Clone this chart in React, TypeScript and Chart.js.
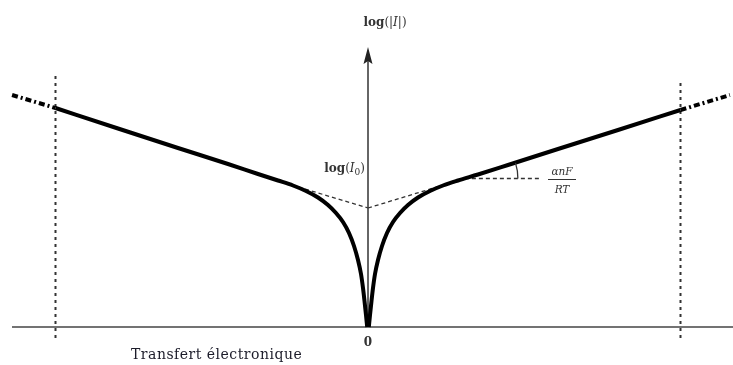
import React, { useEffect, useRef } from "react";
import { Chart, registerables } from "chart.js";

Chart.register(...registerables);

// log|I| versus surtension (transfert électronique); dotted bounds at x = ±1
const leftBranchX = [-1.0, -0.8, -0.608, -0.448, -0.352, -0.288, -0.24, -0.1984, -0.16, -0.128, -0.1024, -0.08, -0.0608, -0.0448, -0.032, -0.0224, -0.016, -0.0112, -0.0064, -0.0026];
const leftBranchY = [2.19, 1.985, 1.79, 1.63, 1.53, 1.465, 1.415, 1.36, 1.295, 1.22, 1.14, 1.05, 0.94, 0.81, 0.67, 0.53, 0.39, 0.26, 0.12, 0.0];
const rightBranchX = [0.0026, 0.0064, 0.0112, 0.016, 0.0224, 0.032, 0.0448, 0.0608, 0.08, 0.1024, 0.128, 0.16, 0.1984, 0.24, 0.288, 0.352, 0.448, 0.608, 0.8, 1.0];
const rightBranchY = [0.0, 0.12, 0.26, 0.39, 0.53, 0.67, 0.81, 0.94, 1.05, 1.14, 1.22, 1.295, 1.36, 1.415, 1.465, 1.525, 1.62, 1.78, 1.97, 2.17];
const leftExtX = [-1.139, -1.0];
const leftExtY = [2.32, 2.19];
const rightExtX = [1.0, 1.158];
const rightExtY = [2.17, 2.32];
const logI0 = 1.19;
const tangentLeftX = [-0.2656, 0];
const tangentLeftY = [1.44, logI0];
const tangentRightX = [0, 0.352];
const tangentRightY = [logI0, 1.525];
const horizontalX = [0.31, 0.55];
const horizontalY = [1.485, 1.485];
const boundsX = [-1.0, 1.0];
const boundsTopY = [2.53, 2.47];
const boundsBottomY = -0.11;
const axisXRange = [-1.1392, 1.168];
const axisYTop = 2.72;
const arrowTipY = 2.8;
const xTickLabels = ["0"];
const xTitle = "Transfert électronique";

const pts = (xs: number[], ys: number[]) => xs.map((x, i) => ({ x, y: ys[i] }));

const SERIF = "'DejaVu Serif', serif";

type Run = { t: string; font: string; dy?: number };

function drawRuns(ctx: CanvasRenderingContext2D, runs: Run[], x: number, y: number, align: "left" | "center" | "right") {
  let total = 0;
  const widths = runs.map((r) => {
    ctx.font = r.font;
    const w = ctx.measureText(r.t).width;
    total += w;
    return w;
  });
  let cx = align === "left" ? x : align === "center" ? x - total / 2 : x - total;
  ctx.textAlign = "left";
  ctx.textBaseline = "alphabetic";
  runs.forEach((r, i) => {
    ctx.font = r.font;
    ctx.fillText(r.t, cx, y + (r.dy || 0));
    cx += widths[i];
  });
}

const annotations = {
  id: "annotations",
  afterDatasetsDraw(chart: any) {
    const ctx: CanvasRenderingContext2D = chart.ctx;
    const xs = chart.scales.x;
    const ys = chart.scales.y;
    const px = (v: number) => xs.getPixelForValue(v);
    const py = (v: number) => ys.getPixelForValue(v);
    ctx.save();

    // arrow head on y axis
    const ax = px(0);
    const tip = py(arrowTipY);
    ctx.fillStyle = "#222";
    ctx.beginPath();
    ctx.moveTo(ax, tip);
    ctx.lineTo(ax - 4.5, tip + 17);
    ctx.lineTo(ax, tip + 14);
    ctx.lineTo(ax + 4.5, tip + 17);
    ctx.closePath();
    ctx.fill();

    // y title
    ctx.fillStyle = "#333";
    drawRuns(
      ctx,
      [
        { t: "log", font: `bold 12px ${SERIF}` },
        { t: "(|", font: `12px ${SERIF}` },
        { t: "I", font: `italic 12px ${SERIF}` },
        { t: "|)", font: `12px ${SERIF}` },
      ],
      ax + 17,
      26,
      "center"
    );

    // log(I0)
    drawRuns(
      ctx,
      [
        { t: "log", font: `bold 12px ${SERIF}` },
        { t: "(", font: `12px ${SERIF}` },
        { t: "I", font: `italic 12px ${SERIF}` },
        { t: "0", font: `9px ${SERIF}`, dy: 3 },
        { t: ")", font: `12px ${SERIF}` },
      ],
      ax - 3,
      py(logI0) - 36,
      "right"
    );

    // x tick label
    ctx.font = `bold 12px ${SERIF}`;
    ctx.textAlign = "center";
    ctx.textBaseline = "middle";
    xTickLabels.forEach((t) => ctx.fillText(t, px(Number(t)), py(0) + 16));

    // x title
    ctx.fillStyle = "#1c1c2a";
    ctx.font = `14px ${SERIF}`;
    (ctx as any).letterSpacing = "0.5px";
    ctx.textAlign = "left";
    ctx.fillText(xTitle, 131, py(0) + 28);
    (ctx as any).letterSpacing = "0px";

    // angle arc
    const ox = px(horizontalX[0]);
    const oy = py(horizontalY[0]);
    ctx.strokeStyle = "#333";
    ctx.lineWidth = 1.3;
    ctx.beginPath();
    ctx.arc(ox, oy, 53, -0.3, 0);
    ctx.stroke();

    // fraction αnF / RT
    const fx = 562;
    const fy = oy + 1;
    ctx.fillStyle = "#333";
    ctx.font = `italic 10.5px ${SERIF}`;
    ctx.textAlign = "center";
    ctx.textBaseline = "alphabetic";
    ctx.fillText("αnF", fx, fy - 5);
    ctx.beginPath();
    ctx.lineWidth = 1;
    ctx.moveTo(fx - 14, fy);
    ctx.lineTo(fx + 14, fy);
    ctx.stroke();
    ctx.fillText("RT", fx, fy + 13);

    ctx.restore();
  },
};

export default function App() {
  const ref = useRef<HTMLCanvasElement | null>(null);

  useEffect(() => {
    if (!ref.current) return;
    const base = { showLine: true, pointRadius: 0, fill: false, clip: false as any };
    const chart = new Chart(ref.current, {
      type: "scatter",
      data: {
        datasets: [
          { ...base, data: pts(leftBranchX, leftBranchY), borderColor: "#000", borderWidth: 4, cubicInterpolationMode: "monotone", borderJoinStyle: "round" },
          { ...base, data: pts(rightBranchX, rightBranchY), borderColor: "#000", borderWidth: 4, cubicInterpolationMode: "monotone", borderJoinStyle: "round" },
          { ...base, data: pts(leftExtX, leftExtY), borderColor: "#000", borderWidth: 4, borderDash: [6, 3, 2, 3] },
          { ...base, data: pts(rightExtX, rightExtY), borderColor: "#000", borderWidth: 4, borderDash: [6, 3, 2, 3] },
          { ...base, data: pts(tangentLeftX, tangentLeftY), borderColor: "#333", borderWidth: 1.3, borderDash: [4, 3] },
          { ...base, data: pts(tangentRightX, tangentRightY), borderColor: "#333", borderWidth: 1.3, borderDash: [4, 3] },
          { ...base, data: pts(horizontalX, horizontalY), borderColor: "#333", borderWidth: 1.3, borderDash: [4, 3] },
          { ...base, data: [{ x: boundsX[0], y: boundsBottomY }, { x: boundsX[0], y: boundsTopY[0] }], borderColor: "#333", borderWidth: 2, borderDash: [3, 4] },
          { ...base, data: [{ x: boundsX[1], y: boundsBottomY }, { x: boundsX[1], y: boundsTopY[1] }], borderColor: "#333", borderWidth: 2, borderDash: [3, 4] },
          { ...base, data: [{ x: 0, y: 0 }, { x: 0, y: axisYTop }], borderColor: "#333", borderWidth: 1.5 },
          { ...base, data: [{ x: axisXRange[0], y: 0 }, { x: axisXRange[1], y: 0 }], borderColor: "#444", borderWidth: 1.5 },
        ] as any,
      },
      options: {
        animation: false,
        responsive: false,
        layout: { padding: { left: 12, right: 0, top: 0, bottom: 26 } },
        scales: {
          x: { type: "linear", min: axisXRange[0], max: axisXRange[1], display: false },
          y: { type: "linear", min: -0.12, max: 3.27, display: false },
        },
        plugins: { legend: { display: false }, tooltip: { enabled: false } },
        events: [],
      },
      plugins: [annotations],
    });
    return () => chart.destroy();
  }, []);

  return (
    <div style={{ position: "fixed", left: 0, top: 0, width: 733, height: 365, background: "#fff" }}>
      <canvas ref={ref} width={733} height={365} style={{ display: "block" }} />
    </div>
  );
}
